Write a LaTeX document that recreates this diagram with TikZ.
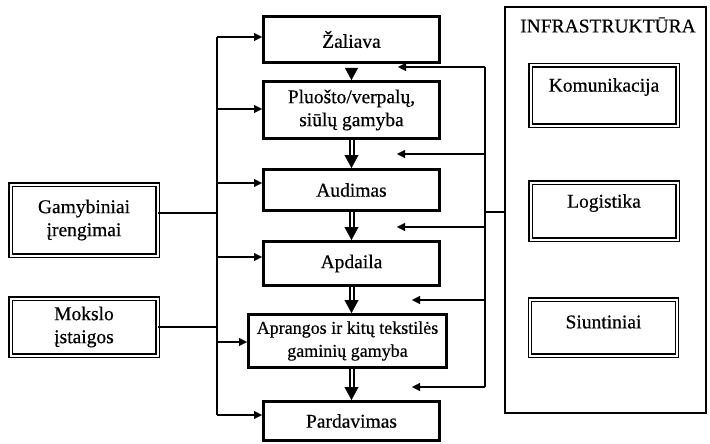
\documentclass[tikz,border=0pt]{standalone}
\usepackage{fontspec}
\setmainfont{Liberation Serif}[UprightFeatures={FakeBold=0.5}]
\usetikzlibrary{arrows.meta}
\begin{document}
\begin{tikzpicture}[x=1pt,y=-1pt,
  txt/.style={font=\fontsize{19.5}{23}\selectfont, align=center, inner sep=0pt},
  mainbox/.style={txt, draw, line width=3pt, minimum width=176pt},
  sidebox/.style={txt, draw, line width=1.1pt, double, double distance=2pt, minimum width=147pt},
  container/.style={draw, line width=1.3pt, minimum width=201pt, minimum height=406pt, inner sep=0pt},
  busline/.style={line width=1.5pt},
  feed/.style={line width=1.5pt, -{Triangle[length=8pt,width=8pt,line width'=0.3pt]}},
  dbl/.style={line width=6pt, -{Triangle[length=13pt,width=14pt,line width'=0.3pt]},
     postaction={draw=white, line width=2pt, -, shorten >=13pt}},
  tipar/.style={line width=1pt, shorten <=4pt, -{Triangle[length=12pt,width=13pt,line width'=0.3pt]}}
]
\useasboundingbox (0,0) rectangle (710,444);

% main column
\node[mainbox, minimum height=46pt] (zal) at (351.5,39.5) {Žaliava};
\node[mainbox, minimum height=57pt] (plu) at (351.5,110) {Pluošto/verpalų,\\ siūlų gamyba};
\node[mainbox, minimum height=41pt] (aud) at (351.5,190) {Audimas};
\node[mainbox, minimum height=44pt] (apd) at (351.5,263.5) {Apdaila};
\node[mainbox, minimum height=53pt, minimum width=198pt, font=\fontsize{18}{23}\selectfont] (apr) at (347.5,341) {Aprangos ir kitų tekstilės\\ gaminių gamyba};
\node[mainbox, minimum height=39pt] (par) at (351.5,421) {Pardavimas};

% left boxes
\node[sidebox, minimum height=71pt] (gam) at (84,220) {Gamybiniai\\ įrengimai};
\node[sidebox, minimum height=57pt] (mok) at (84,327) {Mokslo\\ įstaigos};

% infrastructure
\node[container] (infra) at (605.5,210) {};
\node[txt] (ttl) at (608,25) {INFRASTRUKTŪRA};
\node[sidebox, minimum height=60pt] (kom) at (604,95.5) {};
\node[sidebox, minimum height=57pt] (log) at (604,211) {};
\node[sidebox, minimum height=56pt] (siu) at (603.5,327.5) {};
\node[txt] (komt) at (604,87) {Komunikacija};
\node[txt] (logt) at (604,203) {Logistika};
\node[txt] (siut) at (603.5,322) {Siuntiniai};

% vertical flow
\draw[tipar] (zal) -- (plu);
\draw[dbl] (plu) -- (aud);
\draw[dbl] (aud) -- (apd);
\draw[dbl] (apd.south) -- (apd.south |- apr.north);
\draw[dbl] (apr.south -| par.north) -- (par.north);

% left bus
\coordinate (L1) at (217,37);
\coordinate (L2) at (217,109);
\coordinate (L3) at (217,183);
\coordinate (L4) at (217,257);
\coordinate (L5) at (217,342);
\coordinate (L6) at (217,415);
\coordinate (LG) at (217,213);
\draw[busline] (L1) -- (L6);
\draw[feed] (L1) -- (zal.west |- L1);
\draw[feed] (L2) -- (plu.west |- L2);
\draw[feed] (L3) -- (aud.west |- L3);
\draw[feed] (L4) -- (apd.west |- L4);
\draw[feed] (L5) -- (apr.west |- L5);
\draw[feed] (L6) -- (par.west |- L6);
\draw[busline] (gam.east |- LG) -- (LG);
\draw[busline] (mok.east) -- (mok.east -| L1);

% right bus
\coordinate (R1) at (485,67);
\coordinate (R2) at (485,154);
\coordinate (R3) at (485,227);
\coordinate (R4) at (485,300);
\coordinate (R5) at (485,387);
\coordinate (RS) at (485,212);
\coordinate (E1) at (398,67);
\coordinate (E2) at (397,154);
\coordinate (E3) at (397,227);
\coordinate (E4) at (412,300);
\coordinate (E5) at (412,387);
\draw[busline] (R1) -- (R5);
\draw[feed] (R1) -- (E1);
\draw[feed] (R2) -- (E2);
\draw[feed] (R3) -- (E3);
\draw[feed] (R4) -- (E4);
\draw[feed] (R5) -- (E5);
\draw[busline] (RS) -- (infra.west |- RS);
\end{tikzpicture}
\end{document}
